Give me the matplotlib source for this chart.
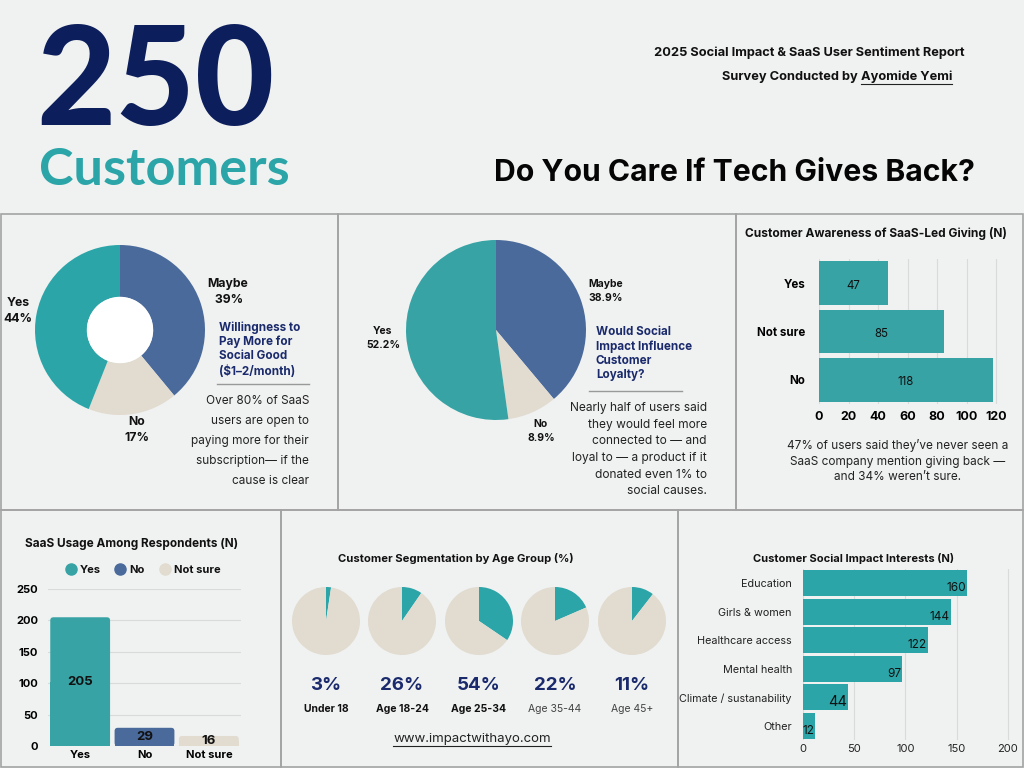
import matplotlib
matplotlib.use('Agg')
import matplotlib.pyplot as plt
from matplotlib.lines import Line2D
from matplotlib.patches import Rectangle, Circle, FancyBboxPatch

# ---- data ----
pay_labels = ['Maybe', 'No', 'Yes']
pay_share = [39, 17, 44]

loyal_labels = ['Maybe', 'No', 'Yes']
loyal_share = [38.9, 8.9, 52.2]

aware_labels = ['Yes', 'Not sure', 'No']
aware_counts = [47, 85, 118]

usage_labels = ['Yes', 'No', 'Not sure']
usage_counts = [205, 29, 16]

age_groups = ['Under 18', 'Age 18-24', 'Age 25-34', 'Age 35-44', 'Age 45+']
age_pct = [3, 26, 54, 22, 11]
age_slice = [2.4, 9.6, 34.5, 18.5, 10.5]  # slice size as drawn in the pies

interest_labels = ['Education', 'Girls & women', 'Healthcare access', 'Mental health',
                   'Climate / sustanability', 'Other']
interest_counts = [160, 144, 122, 97, 44, 12]

# ---- style ----
BG = '#f0f2f1'
NAVY = '#0c1e5b'
TITLE_NAVY = '#1a2a6c'
TEAL = '#2ba5a8'
BAR_TEAL = '#37a3a5'
BLUE = '#4a6a9b'
BEIGE = '#e1dbd0'
BORDER = '#a3a3a3'
GRID = '#d9dbdb'

plt.rcParams['font.family'] = ['Inter', 'DejaVu Sans']
plt.rcParams['text.color'] = '#111111'

W, H = 1024, 768
fig = plt.figure(figsize=(W / 100, H / 100), dpi=100, facecolor=BG)


def fx(x):
    return x / W


def fy(y):
    return 1 - y / H


def axes_px(x0, y0, x1, y1):
    ax = fig.add_axes([fx(x0), fy(y1), (x1 - x0) / W, (y1 - y0) / H])
    ax.set_facecolor('none')
    return ax


def txt(x, y, s, **kw):
    return fig.text(fx(x), fy(y), s, **kw)


def fit_width(t, width):
    # scale a text's font size so it spans the wanted pixel width
    r = fig.canvas.get_renderer()
    w = t.get_window_extent(r).width
    t.set_fontsize(t.get_fontsize() * width / w)


def hline(x0, x1, y, color='#999999', lw=1.0):
    fig.add_artist(Line2D([fx(x0), fx(x1)], [fy(y), fy(y)], color=color, lw=lw))


def underline(t, offset=2, lw=0.9, color='#222222'):
    r = fig.canvas.get_renderer()
    bb = t.get_window_extent(r)
    y = bb.y0 + offset
    fig.add_artist(Line2D([bb.x0 / W, bb.x1 / W], [y / H, y / H], color=color, lw=lw))


def draw_pie(cx, cy, rad, values, colors, **wedge):
    ax = axes_px(cx - rad, cy - rad, cx + rad, cy + rad)
    ax.pie(values, colors=colors, startangle=90, counterclock=False,
           wedgeprops=dict(linewidth=0, **wedge), radius=1)
    # pie() pads the limits, so set them afterwards to fill the box
    ax.set_xlim(-1, 1)
    ax.set_ylim(-1, 1)
    ax.set_aspect('equal')
    ax.axis('off')
    return ax


# ---- panel borders ----
for (x0, y0, x1, y1) in [(1, 214, 338, 510), (338, 214, 736, 510), (736, 214, 1023, 510),
                         (1, 510, 281, 767), (281, 510, 678, 767), (678, 510, 1023, 767)]:
    fig.add_artist(Rectangle((fx(x0), fy(y1)), (x1 - x0) / W, (y1 - y0) / H,
                             facecolor='none', edgecolor=BORDER, lw=1.2))

# ---- header ----
t250 = txt(155, 125, '250', family=['Lato', 'DejaVu Sans'], fontweight='black',
           color=NAVY, fontsize=100, ha='center', va='baseline')
fit_width(t250, 238)
tcust = txt(164, 185, 'Customers', family=['Lato', 'DejaVu Sans'], fontweight='bold',
            color=TEAL, fontsize=38, ha='center', va='baseline')
fit_width(tcust, 251)

th1 = txt(809, 56, '2025 Social Impact & SaaS User Sentiment Report', fontweight='bold',
          fontsize=9.5, ha='center', va='baseline')
fit_width(th1, 312)
th2a = txt(722, 80, 'Survey Conducted by ', fontweight='bold', fontsize=th1.get_fontsize(),
           ha='left', va='baseline')
r = fig.canvas.get_renderer()
x_after = th2a.get_window_extent(r).x1
th2b = fig.text(x_after / W, fy(80), 'Ayomide Yemi', fontweight='bold', fontsize=th1.get_fontsize(),
                ha='left', va='baseline')
underline(th2b, offset=-1, lw=0.8)

tq = txt(734, 181, 'Do You Care If Tech Gives Back?', fontweight='bold', fontsize=24,
         ha='center', va='baseline', color='#050505')
fit_width(tq, 482)

# ---- panel 1: donut ----
ax = draw_pie(120, 330, 85, pay_share, [BLUE, BEIGE, TEAL], width=0.61)
ax.add_patch(Circle((0, 0), 0.39, facecolor='white', edgecolor='none'))

lab = dict(fontweight='bold', fontsize=8.8, ha='center', va='center', linespacing=1.35)
txt(228, 292, f'{pay_labels[0]}\n {pay_share[0]}%', **lab)
txt(18, 311, f'{pay_labels[2]}\n{pay_share[2]}%', **lab)
txt(137, 430, f'{pay_labels[1]}\n{pay_share[1]}%', **lab)

txt(219, 321, 'Willingness to\nPay More for\nSocial Good\n($1\u20132/month)', fontweight='bold',
    fontsize=8.4, color=TITLE_NAVY, ha='left', va='top', linespacing=1.24)
hline(217, 309, 384)
txt(309, 395, 'Over 80% of SaaS\nusers are open to\npaying more for their\nsubscription\u2014 if the\ncause is clear',
    fontsize=8.5, ha='right', va='top', linespacing=1.88, color='#222222')

# ---- panel 2: pie ----
draw_pie(496, 330, 90, loyal_share, [BLUE, BEIGE, BAR_TEAL])

lab2 = dict(fontweight='bold', fontsize=7.5, va='center', linespacing=1.45)
txt(588, 291, f'{loyal_labels[0]}\n{loyal_share[0]}%', ha='left', **lab2)
txt(383, 338, f'{loyal_labels[2]}\n{loyal_share[2]}%', ha='center', **lab2)
txt(541, 431, f'{loyal_labels[1]}\n{loyal_share[1]}%', ha='center', **lab2)

txt(596, 326, 'Would Social\nImpact Influence\nCustomer\nLoyalty?', fontweight='bold',
    fontsize=8.4, color=TITLE_NAVY, ha='left', va='top', linespacing=1.24)
hline(589, 682, 391)
txt(707, 402, 'Nearly half of users said\nthey would feel more\nconnected to \u2014 and\nloyal to \u2014 a product if it\ndonated even 1% to\nsocial causes.',
    fontsize=8.6, ha='right', va='top', linespacing=1.52, color='#222222')

# ---- panel 3: awareness bars ----
txt(745, 234, 'Customer Awareness of SaaS-Led Giving (N)', fontweight='bold', fontsize=8.6,
    ha='left', va='center')
ax = axes_px(819, 259, 999, 404)
ypos = range(len(aware_labels))
ax.barh(ypos, aware_counts, height=0.91, color=BAR_TEAL, zorder=2)
for i, v in enumerate(aware_counts):
    ax.text(v / 2, i + 0.05, str(v), ha='center', va='center', fontsize=8.3, color='#111111')
ax.set_ylim(len(aware_labels) - 0.5, -0.5)
ax.set_xlim(0, 122)
ax.set_xticks(range(0, 121, 20))
ax.set_yticks(list(ypos))
ax.set_yticklabels(aware_labels, fontweight='bold', fontsize=8.3)
ax.tick_params(axis='x', labelsize=9, length=0, pad=5)
ax.tick_params(axis='y', length=0, pad=10)
for lbl in ax.get_xticklabels():
    lbl.set_fontweight('bold')
ax.grid(axis='x', color=GRID, lw=0.8, zorder=0)
for s in ax.spines.values():
    s.set_visible(False)
txt(898, 461, '47% of users said they\u2019ve never seen a\nSaaS company mention giving back \u2014\nand 34% weren\u2019t sure.',
    fontsize=8.5, ha='center', va='center', linespacing=1.42, color='#222222')

# ---- panel 4: usage bars ----
txt(132, 544, 'SaaS Usage Among Respondents (N)', fontweight='bold', fontsize=8.5,
    ha='center', va='center')
ax = axes_px(48, 589, 241, 746)
usage_colors = [BAR_TEAL, BLUE, BEIGE]
bars = ax.bar(range(3), usage_counts, width=0.93, color=usage_colors, zorder=2)
# slightly rounded tops: one x unit is ~64 px, one y unit ~0.63 px
y_per_x = (193 / 3) / (157 / 250)
for b in bars:
    b.set_visible(False)
    ax.add_patch(FancyBboxPatch((b.get_x(), b.get_y()), b.get_width(), b.get_height(),
                                boxstyle='round,pad=0,rounding_size=0.05',
                                mutation_aspect=y_per_x,
                                facecolor=b.get_facecolor(), edgecolor='none', zorder=2))
    ax.add_patch(Rectangle((b.get_x(), 0), b.get_width(), b.get_height() / 2,
                           facecolor=b.get_facecolor(), edgecolor='none', zorder=2))
for i, v in enumerate(usage_counts):
    ax.text(i, v / 2, str(v), ha='center', va='center', fontsize=9.5, fontweight='bold',
            color='#111111', zorder=3)
ax.set_xlim(-0.5, 2.5)
ax.set_ylim(0, 250)
ax.set_yticks(range(0, 251, 50))
ax.set_xticks(range(3))
ax.set_xticklabels(usage_labels, fontweight='bold', fontsize=8)
ax.tick_params(axis='x', length=0, pad=3)
ax.tick_params(axis='y', length=0, pad=7, labelsize=8)
for lbl in ax.get_yticklabels():
    lbl.set_fontweight('bold')
ax.grid(axis='y', color=GRID, lw=0.8, zorder=0)
for s in ax.spines.values():
    s.set_visible(False)
handles = [Line2D([], [], marker='o', ls='', markersize=8, markerfacecolor=c,
                  markeredgecolor=c) for c in usage_colors]
fig.legend(handles, usage_labels, loc='center', bbox_to_anchor=(fx(142), fy(570)), ncol=3,
           frameon=False, prop=dict(weight='bold', size=8), handletextpad=0.2,
           columnspacing=1.2, handlelength=1.2)

# ---- panel 5: age pies ----
txt(456, 559, 'Customer Segmentation by Age Group (%)', fontweight='bold', fontsize=8.1,
    ha='center', va='center')
pie_x = [326, 402, 479, 555, 632]
for i, cx in enumerate(pie_x):
    draw_pie(cx, 621, 34, [age_slice[i], 100 - age_slice[i]], [TEAL, BEIGE])
    txt(cx, 686, f'{age_pct[i]}%', fontweight='bold', fontsize=13.5, color=TITLE_NAVY,
        ha='center', va='center')
    bold = i < 3
    txt(cx, 709, age_groups[i], fontweight='bold' if bold else 'normal', fontsize=7.5,
        color='#111111' if bold else '#444444', ha='center', va='center')
turl = txt(472, 739, 'www.impactwithayo.com', fontsize=9.5, ha='center', va='center',
           color='#222222')
underline(turl, offset=-1, lw=0.8)

# ---- panel 6: interest bars ----
txt(854, 558, 'Customer Social Impact Interests (N)', fontweight='bold', fontsize=8,
    ha='center', va='center')
ax = axes_px(803, 569, 1010, 740)
ypos = range(len(interest_labels))
ax.barh(ypos, interest_counts, height=0.92, color=TEAL, zorder=2)
for i, v in enumerate(interest_counts):
    ax.text(v - 1, i + 0.17, str(v), ha='right', va='center',
            fontsize=10.5 if v == 44 else 8.5, color='#111111', zorder=3)
ax.set_ylim(len(interest_labels) - 0.5, -0.5)
ax.set_xlim(0, 202)
ax.set_xticks(range(0, 201, 50))
ax.set_yticks(list(ypos))
ax.set_yticklabels(interest_labels, fontsize=7.8, color='#222222')
ax.tick_params(axis='x', length=0, pad=3, labelsize=8, labelcolor='#222222')
ax.tick_params(axis='y', length=0, pad=8)
ax.grid(axis='x', color=GRID, lw=0.8, zorder=0)
for s in ax.spines.values():
    s.set_visible(False)

fig.savefig('out.png', dpi=100, facecolor=BG)
